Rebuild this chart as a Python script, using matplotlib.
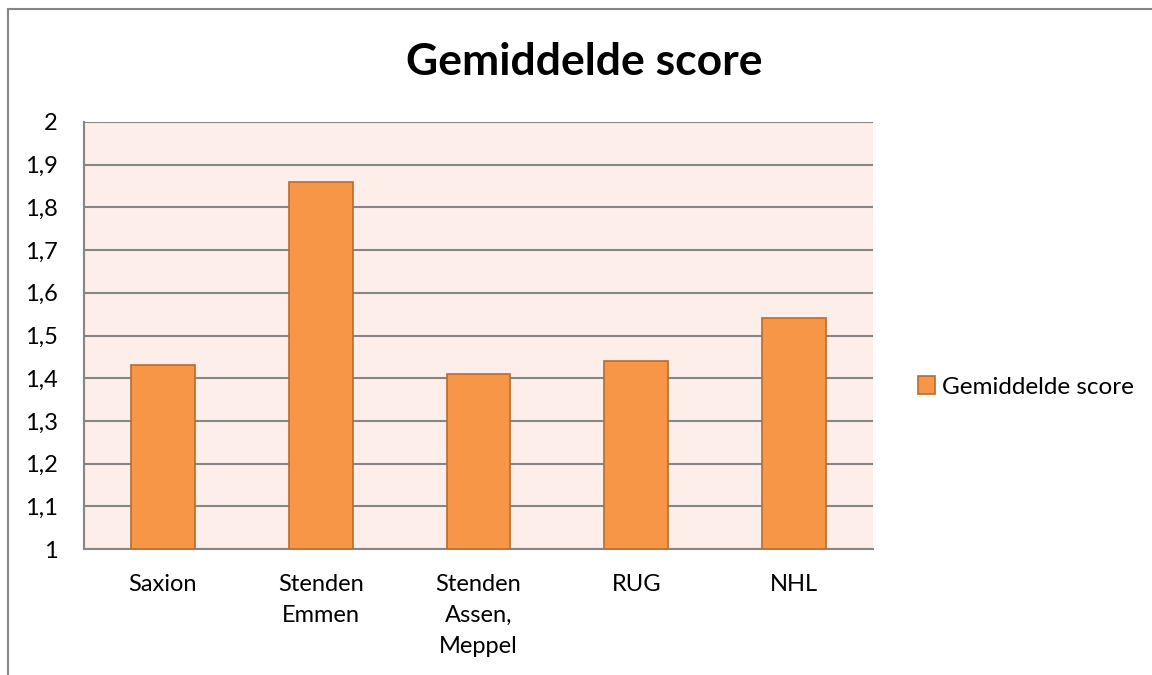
import matplotlib.pyplot as plt
from matplotlib.lines import Line2D
import numpy as np

plt.rcParams.update({'font.family': ['Lato', 'DejaVu Sans']})

# Data
categories = ['Saxion', 'Stenden\nEmmen', 'Stenden\nAssen,\nMeppel', 'RUG', 'NHL']
scores = [1.43, 1.86, 1.41, 1.44, 1.54]
yticks = [1.0, 1.1, 1.2, 1.3, 1.4, 1.5, 1.6, 1.7, 1.8, 1.9, 2.0]
series_name = 'Gemiddelde score'

W, H = 1152, 675
fig = plt.figure(figsize=(W / 100, H / 100), dpi=100)
ax = fig.add_axes([84 / W, 1 - 549 / H, (873 - 84) / W, (549 - 122) / H])

x = np.arange(len(categories))
ax.bar(x, np.array(scores) - 1.0, bottom=1.0, width=0.405, color='#F79646',
       edgecolor='#B66D31', linewidth=1.2, label=series_name, zorder=3)

ax.set_facecolor('#FDEEE9')
ax.set_xlim(-0.5, len(categories) - 0.5)
ax.set_ylim(1.0, 2.0)
ax.set_yticks(yticks)
ax.set_yticklabels([f'{v:g}'.replace('.', ',') for v in yticks], fontsize=17)
ax.set_xticks(x)
ax.set_xticklabels(categories, fontsize=17, linespacing=1.6, va='top')
ax.tick_params(axis='both', length=0, colors='black')
ax.tick_params(axis='x', pad=18)
ax.tick_params(axis='y', pad=19)

ax.grid(axis='y', color='#868686', linewidth=1.5, zorder=1)
for side in ['top', 'right']:
    ax.spines[side].set_visible(False)
for side in ['left', 'bottom']:
    ax.spines[side].set_color('#868686')
    ax.spines[side].set_linewidth(1.5)

fig.text(584 / W, 1 - 62 / H, 'Gemiddelde score', fontsize=32, fontweight='bold',
         ha='center', va='center')

ax.legend(loc='center left', bbox_to_anchor=(896 / W, 1 - 387 / H),
          bbox_transform=fig.transFigure, frameon=False, fontsize=17.5,
          handlelength=0.7, handleheight=0.7, handletextpad=0.3)

# chart border (top and left edges visible)
fig.add_artist(Line2D([8 / W, 1.0], [1 - 9 / H, 1 - 9 / H], color='#868686', linewidth=1.5))
fig.add_artist(Line2D([8 / W, 8 / W], [0.0, 1 - 9 / H], color='#868686', linewidth=1.5))

plt.savefig('out.png', dpi=100)
